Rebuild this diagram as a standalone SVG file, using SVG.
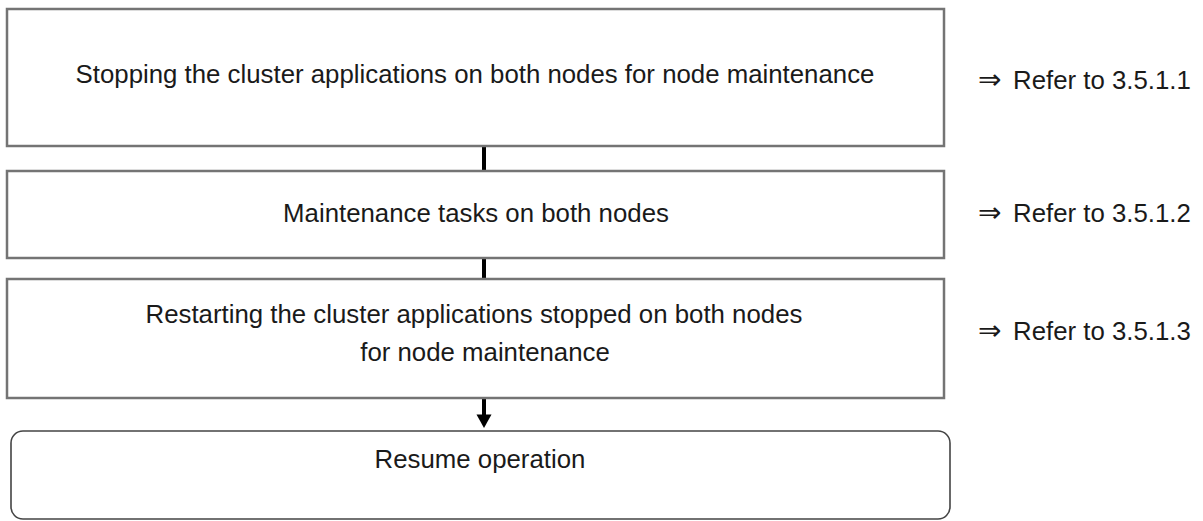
<svg xmlns="http://www.w3.org/2000/svg" width="1203" height="521" viewBox="0 0 1203 521">
<style>
  .box { fill: #ffffff; stroke: #747474; stroke-width: 2.5; }
  .end { fill: #ffffff; stroke: #444444; stroke-width: 1.6; }
  text { font-family: "Liberation Sans", Arial, sans-serif; font-size: 25.8px; fill: #1a1a1a; }
  .c { text-anchor: middle; }
  .sym { font-family: "DejaVu Sans", sans-serif; font-size: 28px; }
  .conn { stroke: #000000; stroke-width: 4; fill: none; }
</style>
<rect width="1203" height="521" fill="#ffffff"/>
<g id="connectors">
  <line class="conn" x1="484" y1="146" x2="484" y2="171"/>
  <line class="conn" x1="484" y1="258" x2="484" y2="279"/>
  <line class="conn" x1="484" y1="399" x2="484" y2="415"/>
  <path d="M476.5,414.5 L491.5,414.5 L484,428 Z" fill="#000000"/>
</g>
<g id="step1">
  <rect class="box" x="7" y="9" width="937" height="137"/>
  <text class="c" x="475" y="83">Stopping the cluster applications on both nodes for node maintenance</text>
</g>
<g id="step2">
  <rect class="box" x="7" y="171" width="937" height="87"/>
  <text class="c" x="476" y="222">Maintenance tasks on both nodes</text>
</g>
<g id="step3">
  <rect class="box" x="7" y="279" width="937" height="119"/>
  <text class="c" x="474" y="323">Restarting the cluster applications stopped on both nodes</text>
  <text class="c" x="485" y="361">for node maintenance</text>
</g>
<g id="resume">
  <rect class="end" x="11" y="431" width="939" height="88" rx="12" ry="12"/>
  <text class="c" x="480" y="468">Resume operation</text>
</g>
<g id="ref1">
  <text x="978" y="89"><tspan class="sym">⇒</tspan><tspan x="1013">Refer to 3.5.1.1</tspan></text>
</g>
<g id="ref2">
  <text x="978" y="222"><tspan class="sym">⇒</tspan><tspan x="1013">Refer to 3.5.1.2</tspan></text>
</g>
<g id="ref3">
  <text x="978" y="340"><tspan class="sym">⇒</tspan><tspan x="1013">Refer to 3.5.1.3</tspan></text>
</g>
</svg>
